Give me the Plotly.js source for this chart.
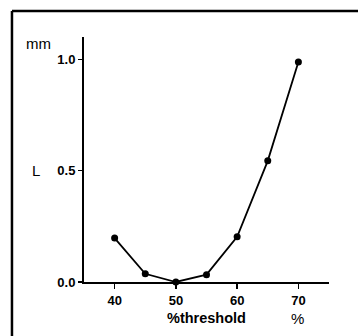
<!DOCTYPE html>
<html>
<head>
<meta charset="utf-8">
<script src="https://cdn.plot.ly/plotly-3.0.1.min.js"></script>
<style>html,body{margin:0;padding:0;background:#fff;}#chart{width:358px;height:336px;}</style>
</head>
<body>
<div id="chart"></div>
<script>
var thresholds = [40, 45, 50, 55, 60, 65, 70];
var lengths = [0.197, 0.037, 0.0, 0.033, 0.203, 0.544, 0.988];
var xTicks = [40, 50, 60, 70];
var yTicks = [0.0, 0.5, 1.0];

var trace = {
  x: thresholds, y: lengths, type: 'scatter', mode: 'lines+markers',
  line: {color: '#000', width: 1.8},
  marker: {color: '#000', size: 7},
  cliponaxis: false, hoverinfo: 'skip'
};
var font = {family: 'Liberation Sans, Arial, sans-serif', color: '#000'};
var layout = {
  width: 358, height: 336,
  margin: {l: 84, r: 29, t: 37, b: 54},
  paper_bgcolor: '#fff', plot_bgcolor: '#fff',
  showlegend: false,
  xaxis: {
    range: [35, 75], tickvals: xTicks, ticktext: xTicks.map(String),
    showgrid: false, zeroline: false, showline: true, linecolor: '#000', linewidth: 2,
    ticks: 'outside', ticklen: 5, tickwidth: 1.5, tickcolor: '#000',
    tickfont: {family: font.family, color: '#000', size: 13, weight: 'bold'}
  },
  yaxis: {
    range: [0, 1.1], tickvals: yTicks, tickformat: '.1f',
    showgrid: false, zeroline: false, showline: true, linecolor: '#000', linewidth: 2,
    ticks: 'outside', ticklen: 4, tickwidth: 1.5, tickcolor: '#000',
    tickfont: {family: font.family, color: '#000', size: 13, weight: 'bold'}
  },
  shapes: [
    {type: 'line', xref: 'paper', yref: 'paper', x0: -0.294, x1: -0.294, y0: 1.106, y1: -1, line: {color: '#000', width: 2.5}},
    {type: 'line', xref: 'paper', yref: 'paper', x0: -0.294, x1: 2, y0: 1.106, y1: 1.106, line: {color: '#000', width: 2.5}}
  ],
  annotations: [
    {text: 'mm', xref: 'paper', yref: 'paper', x: -0.1837, y: 0.9755, showarrow: false, xanchor: 'center', yanchor: 'middle', font: {family: font.family, color: '#000', size: 15}},
    {text: 'L', xref: 'paper', yref: 'paper', x: -0.196, y: 0.457, showarrow: false, xanchor: 'center', yanchor: 'middle', font: {family: font.family, color: '#000', size: 15}},
    {text: '%threshold', xref: 'paper', yref: 'paper', x: 0.498, y: -0.147, showarrow: false, xanchor: 'center', yanchor: 'middle', font: {family: font.family, color: '#000', size: 14.5, weight: 'bold'}},
    {text: '%', xref: 'paper', yref: 'paper', x: 0.873, y: -0.151, showarrow: false, xanchor: 'center', yanchor: 'middle', font: {family: font.family, color: '#000', size: 15}}
  ]
};
Plotly.newPlot('chart', [trace], layout, {staticPlot: true, displayModeBar: false});
</script>
</body>
</html>
